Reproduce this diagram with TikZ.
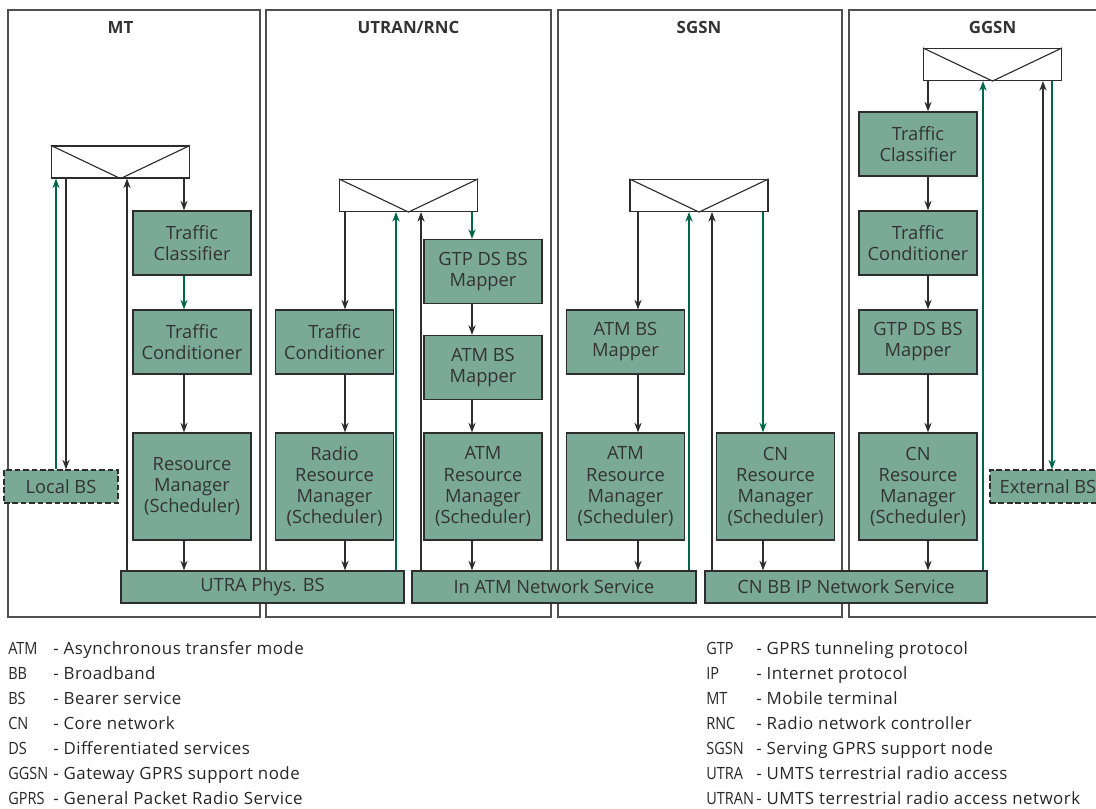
\documentclass[tikz,border=0pt]{standalone}
\usepackage{fontspec}
\setmainfont{Open Sans}
\newfontfamily\legdesc[LetterSpace=3]{Open Sans}
\newfontfamily\legabbr[FakeStretch=0.86]{Open Sans}
\usetikzlibrary{arrows.meta}
\definecolor{boxgreen}{RGB}{122,170,150}
\definecolor{flowgreen}{RGB}{0,104,72}
\definecolor{edgegray}{RGB}{45,45,45}
\definecolor{framegray}{RGB}{80,80,80}
\newcommand{\boxfont}{\fontsize{13}{15}\selectfont}
\newcommand{\legfont}{\legabbr\fontsize{12}{14}\selectfont}
\newcommand{\descfont}{\legdesc\fontsize{12}{14}\selectfont}
\tikzset{
  >={Stealth[length=2.4mm,width=1.8mm]},
  blk/.style={draw=edgegray,fill=boxgreen,line width=0.9pt,minimum width=2.95cm,align=center,text=black!80,font=\boxfont,inner sep=1pt},
  two/.style={blk,minimum height=1.6cm},
  four/.style={blk,minimum height=2.675cm},
  bar/.style={blk,minimum height=0.8cm},
  dashbox/.style={blk,dash pattern=on 4pt off 2pt,minimum height=0.825cm},
  mux/.style={draw=edgegray,fill=white,line width=0.8pt,minimum width=3.45cm,minimum height=0.8cm,inner sep=0pt},
  frm/.style={draw=framegray,line width=1pt},
  ttl/.style={font=\bfseries\fontsize{12}{14}\selectfont,text=black!80},
  dn/.style={->,draw=edgegray,line width=0.8pt},
  gn/.style={->,draw=flowgreen,line width=0.8pt},
  leg/.style={anchor=base west,inner sep=0pt,font=\legfont,text=black!85},
  desc/.style={leg,font=\descfont},
}
\begin{document}
\begin{tikzpicture}[x=0.025cm,y=-0.025cm]
\useasboundingbox (0,0) rectangle (1096,808);
\clip (0,0) rectangle (1096,808);
% the four network elements
\draw[frm] (8,10) rectangle (260,617);
\draw[frm] (266,10) rectangle (551,617);
\draw[frm] (558,10) rectangle (842,617);
\draw[frm] (849,10) rectangle (1110,617);
\node[ttl] (tmt) at (120.5,27) {MT};
\node[ttl] (trnc) at (408.5,27) {UTRAN/RNC};
\node[ttl] (tsg) at (699,27) {SGSN};
\node[ttl] (tgg) at (992.5,27) {GGSN};

% MT
\node[mux] (mtmux) at (120.5,162) {};
\node[two] (mtTC) at (192,243) {Traffic\\Classifier};
\node[two] (mtTCond) at (192,342) {Traffic\\Conditioner};
\node[four] (mtRM) at (192,486.5) {Resource\\Manager\\(Scheduler)};
\node[dashbox,minimum width=2.85cm] (mtLocal) at (61,486.5) {Local BS};
% UTRAN/RNC
\node[mux] (rncmux) at (408.5,195.5) {};
\node[two] (rncTCond) at (334.5,342) {Traffic\\Conditioner};
\node[four] (rncRRM) at (334.5,486.5) {Radio\\Resource\\Manager\\(Scheduler)};
\node[two] (rncGTP) at (483,271.5) {GTP DS BS\\Mapper};
\node[two] (rncMap) at (483,367.5) {ATM BS\\Mapper};
\node[four] (rncRM) at (483,486.5) {ATM\\Resource\\Manager\\(Scheduler)};
% SGSN
\node[mux] (sgmux) at (699,195.5) {};
\node[two] (sgMap) at (625.5,342) {ATM BS\\Mapper};
\node[four] (sgRM) at (625.5,486.5) {ATM\\Resource\\Manager\\(Scheduler)};
\node[four] (sgCN) at (775.5,486.5) {CN\\Resource\\Manager\\(Scheduler)};
% GGSN
\node[mux] (ggmux) at (992.5,64.5) {};
\node[two] (ggTC) at (918,144) {Traffic\\Classifier};
\node[two] (ggTCond) at (918,243) {Traffic\\Conditioner};
\node[two] (ggGTP) at (918,342) {GTP DS BS\\Mapper};
\node[four] (ggCN) at (918,486.5) {CN\\Resource\\Manager\\(Scheduler)};
\node[dashbox,minimum width=2.9cm] (ggExt) at (1048,486.5) {External BS};
% bearer services
\node[bar,minimum width=7.075cm] (utra) at (262.5,587) {UTRA Phys. BS};
\node[bar,minimum width=7.1cm] (atm) at (554,587) {In ATM Network Service};
\node[bar,minimum width=7.05cm] (cnbb) at (846,587) {CN BB IP Network Service};

\foreach \m in {mtmux,rncmux,sgmux,ggmux}
  \draw[edgegray,line width=0.8pt] (\m.north west) -- (\m.south) -- (\m.north east);

% x positions of the vertical lines
\coordinate (mtG) at (56,0); \coordinate (mtK) at (66,0);
\coordinate (mtU) at (127,0); \coordinate (mtD) at (184,0);
\coordinate (rncD) at (345,0); \coordinate (rncG) at (396,0);
\coordinate (rncU) at (421,0); \coordinate (rncE) at (472,0);
\coordinate (sgD) at (638,0); \coordinate (sgG) at (689,0);
\coordinate (sgU) at (712,0); \coordinate (sgE) at (763,0);
\coordinate (ggD) at (928,0); \coordinate (ggG) at (983,0);
\coordinate (ggU) at (1043,0); \coordinate (ggE) at (1052,0);

\draw[gn] (mtLocal.north -| mtG) -- (mtmux.south -| mtG);
\draw[dn] (mtmux.south -| mtK) -- (mtLocal.north -| mtK);
\draw[dn] (utra.north -| mtU) -- (mtmux.south -| mtU);
\draw[dn] (mtmux.south -| mtD) -- (mtTC.north -| mtD);
\draw[gn] (mtTC.south -| mtD) -- (mtTCond.north -| mtD);
\draw[dn] (mtTCond.south -| mtD) -- (mtRM.north -| mtD);
\draw[dn] (mtRM.south -| mtD) -- (utra.north -| mtD);

\draw[dn] (rncmux.south -| rncD) -- (rncTCond.north -| rncD);
\draw[dn] (rncTCond.south -| rncD) -- (rncRRM.north -| rncD);
\draw[dn] (rncRRM.south -| rncD) -- (utra.north -| rncD);
\draw[gn] (utra.north -| rncG) -- (rncmux.south -| rncG);
\draw[dn] (atm.north -| rncU) -- (rncmux.south -| rncU);
\draw[gn] (rncmux.south -| rncE) -- (rncGTP.north -| rncE);
\draw[dn] (rncGTP.south -| rncE) -- (rncMap.north -| rncE);
\draw[dn] (rncMap.south -| rncE) -- (rncRM.north -| rncE);
\draw[dn] (rncRM.south -| rncE) -- (atm.north -| rncE);

\draw[dn] (sgmux.south -| sgD) -- (sgMap.north -| sgD);
\draw[dn] (sgMap.south -| sgD) -- (sgRM.north -| sgD);
\draw[dn] (sgRM.south -| sgD) -- (atm.north -| sgD);
\draw[gn] (atm.north -| sgG) -- (sgmux.south -| sgG);
\draw[dn] (cnbb.north -| sgU) -- (sgmux.south -| sgU);
\draw[gn] (sgmux.south -| sgE) -- (sgCN.north -| sgE);
\draw[dn] (sgCN.south -| sgE) -- (cnbb.north -| sgE);

\draw[dn] (ggmux.south -| ggD) -- (ggTC.north -| ggD);
\draw[dn] (ggTC.south -| ggD) -- (ggTCond.north -| ggD);
\draw[dn] (ggTCond.south -| ggD) -- (ggGTP.north -| ggD);
\draw[dn] (ggGTP.south -| ggD) -- (ggCN.north -| ggD);
\draw[dn] (ggCN.south -| ggD) -- (cnbb.north -| ggD);
\draw[gn] (cnbb.north -| ggG) -- (ggmux.south -| ggG);
\draw[dn] (ggExt.north -| ggU) -- (ggmux.south -| ggU);
\draw[gn] (ggmux.south -| ggE) -- (ggExt.north -| ggE);

% abbreviations
\foreach \ab/\tx [count=\i] in {ATM/Asynchronous transfer mode,BB/Broadband,BS/Bearer service,CN/Core network,DS/Differentiated services,GGSN/Gateway GPRS support node,GPRS/General Packet Radio Service}{
  \node[leg] (la\i) at (8,{629+25*\i}) {\ab};
  \node[desc] (lb\i) at (53,{629+25*\i}) {- \tx};
}
\foreach \ab/\tx [count=\i] in {GTP/GPRS tunneling protocol,IP/Internet protocol,MT/Mobile terminal,RNC/Radio network controller,SGSN/Serving GPRS support node,UTRA/UMTS terrestrial radio access,UTRAN/UMTS terrestrial radio access network}{
  \node[leg] (ra\i) at (706,{629+25*\i}) {\ab};
  \node[desc] (rb\i) at (756,{629+25*\i}) {- \tx};
}
\end{tikzpicture}
\end{document}
